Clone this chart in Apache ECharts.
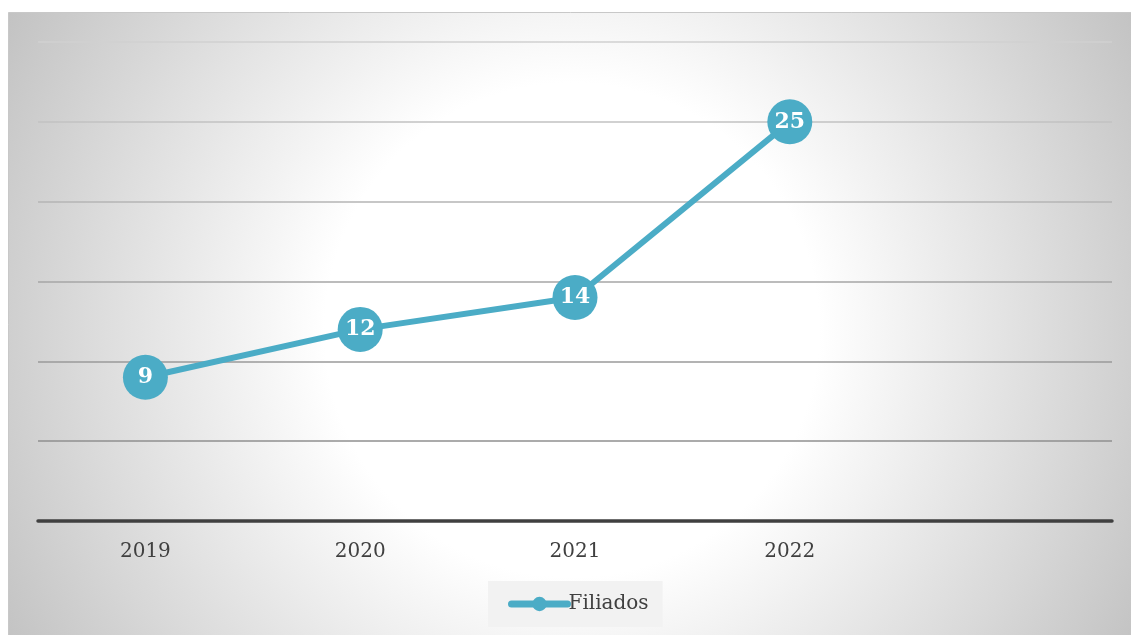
<!DOCTYPE html>
<html>
<head>
<meta charset="utf-8">
<style>
html,body{margin:0;padding:0;background:#fff;}
#chart{width:1131px;height:635px;}
</style>
<script src="https://cdn.jsdelivr.net/npm/echarts@6/dist/echarts.min.js"></script>
</head>
<body>
<div id="chart"></div>
<script>
const categories = ['2019', '2020', '2021', '2022', ''];
const filiados = [9, 12, 14, 25, null];
const seriesName = 'Filiados';

const chart = echarts.init(document.getElementById('chart'), null, {renderer: 'canvas'});
const serif = '"DejaVu Serif", "Liberation Serif", serif';
chart.setOption({
  animation: false,
  graphic: [{
    type: 'rect', z: -10, silent: true,
    shape: {x: 8.5, y: 12.5, width: 1130, height: 630},
    style: {
      fill: new echarts.graphic.RadialGradient(572, 330, 650, [
        {offset: 0, color: '#ffffff'},
        {offset: 0.38, color: '#ffffff'},
        {offset: 1, color: '#c2c2c2'}
      ], true),
      stroke: '#c8c8c8', lineWidth: 1
    }
  }],
  grid: {left: 38, right: 19, top: 42, bottom: 114, containLabel: false},
  xAxis: {
    type: 'category',
    data: categories,
    boundaryGap: true,
    axisLine: {show: true, lineStyle: {color: '#404040', width: 3.5}},
    axisTick: {show: false},
    axisLabel: {color: '#404040', fontFamily: serif, fontSize: 20, margin: 21}
  },
  yAxis: {
    type: 'value', min: 0, max: 30, interval: 5,
    axisLine: {show: false}, axisTick: {show: false},
    axisLabel: {show: false},
    splitLine: {show: true, lineStyle: {width: 1.5, color: ['#8c8c8c', '#8f8f8f', '#9a9a9a', '#a6a6a6', '#b4b4b4', '#c2c2c2', '#d0d0d0']}}
  },
  legend: {
    show: true, bottom: 8, left: 488,
    backgroundColor: '#f2f2f2', padding: [13, 14, 13, 20],
    itemWidth: 56, itemHeight: 18, itemGap: 4,
    lineStyle: {width: 7, cap: 'round', color: '#4bacc6'},
    itemStyle: {color: '#4bacc6'},
    textStyle: {color: '#404040', fontFamily: serif, fontSize: 20, padding: [0, 0, 0, -4]},
    data: [{name: seriesName}]
  },
  series: [{
    name: seriesName,
    type: 'line',
    data: filiados,
    symbol: 'circle', symbolSize: 45,
    itemStyle: {color: '#4bacc6'},
    lineStyle: {color: '#4bacc6', width: 6},
    label: {
      show: true, position: 'inside', color: '#ffffff',
      fontFamily: serif, fontWeight: 'bold', fontSize: 22
    }
  }]
});
</script>
</body>
</html>
